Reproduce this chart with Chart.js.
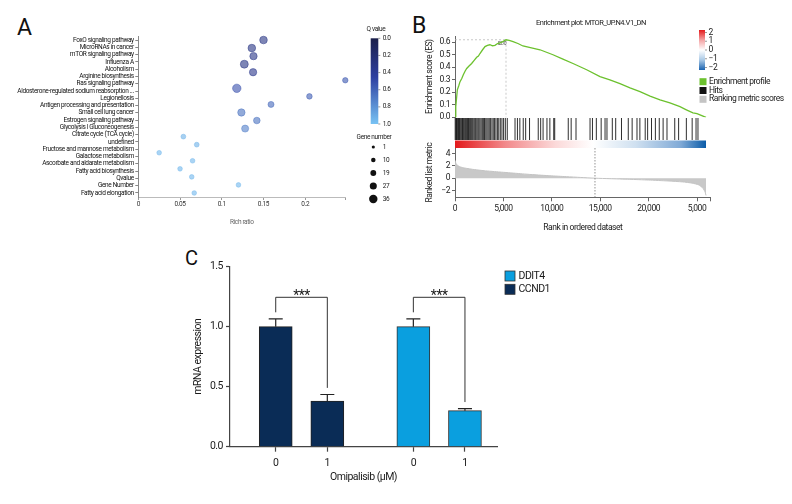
<!DOCTYPE html>
<html>
<head>
<meta charset="utf-8">
<script src="https://cdn.jsdelivr.net/npm/chart.js@4/dist/chart.umd.min.js"></script>
<style>
  body { margin: 0; background: #fff; }
  #page { position: relative; width: 792px; height: 504px; overflow: hidden; font-family: Roboto, "Liberation Sans", sans-serif; }
  canvas { position: absolute; }
  .lbl { position: absolute; line-height: 1; color: #111; }
</style>
</head>
<body>
<div id="page">
  <div class="lbl" style="left:17px;top:16px;font-size:23px">A</div>
  <div class="lbl" style="left:412px;top:14px;font-size:23px">B</div>
  <div class="lbl" style="left:185px;top:248px;font-size:20px">C</div>
  <canvas id="chartA" width="400" height="240" style="left:0;top:0"></canvas>
  <canvas id="chartES" width="392" height="125" style="left:400px;top:0"></canvas>
  <canvas id="chartHits" width="330" height="30" style="left:400px;top:118px"></canvas>
  <canvas id="chartMetric" width="330" height="100" style="left:400px;top:140px"></canvas>
  <canvas id="chartC" width="430" height="264" style="left:150px;top:240px"></canvas>
</div>
<script>
const FONT = 'Roboto, "Liberation Sans", sans-serif';

// ---- panel A: KEGG bubble plot
const pathways = ['FoxO signaling pathway', 'MicroRNAs in cancer', 'mTOR signaling pathway', 'Influenza A',
  'Alcoholism', 'Arginine biosynthesis', 'Ras signaling pathway', 'Aldosterone-regulated sodium reabsorption ...',
  'Legionellosis', 'Antigen processing and presentation', 'Small cell lung cancer', 'Estrogen signaling pathway',
  'Glycolysis l Gluconeogenesis', 'Citrate cycle (TCA cycle)', 'undefined', 'Fructose and mannose metabolism',
  'Galactose metabolism', 'Ascorbate and aldarate metabolism', 'Fatty acid biosynthesis', 'Qvalue',
  'Gene Number', 'Fatty acid elongation'];
const richRatio = [0.150, 0.136, 0.138, 0.127, 0.1375, 0.248, 0.118, 0.205, 0.159, 0.1235,
  0.142, 0.128, 0.054, 0.070, 0.025, 0.065, 0.050, 0.064, 0.120, 0.067];
const qValue = [0.30, 0.30, 0.32, 0.30, 0.34, 0.55, 0.52, 0.58, 0.62, 0.66,
  0.66, 0.72, 0.92, 0.92, 0.95, 0.95, 0.95, 0.95, 0.95, 0.95];
const geneNumber = [31, 31, 29, 33, 29, 16, 36, 17, 20, 29, 24, 27, 12, 12, 11, 11, 11, 11, 11, 11];
const richTicks = [0, 0.05, 0.1, 0.15, 0.2];
const qTicks = [0, 0.2, 0.4, 0.6, 0.8, 1.0];
const geneLegend = [1, 10, 19, 27, 36];

// ---- panel B: GSEA enrichment plot
const esRank = [0, 60, 100, 170, 240, 380, 520, 700, 860, 1050, 1210, 1450, 1720, 1980, 2240, 2420, 2580,
  2850, 3100, 3350, 3610, 3870, 4130, 4400, 4650, 4950, 5270, 5600, 6000, 6500, 7020, 7900, 8780, 9450,
  10120, 11150, 12190, 13600, 14980, 16000, 17040, 18080, 19110, 20150, 21180, 22200, 23240, 23900, 24580,
  25000, 25310, 25930];
const esScore = [0, 0.05, 0.085, 0.16, 0.22, 0.25, 0.285, 0.31, 0.34, 0.37, 0.39, 0.41, 0.43, 0.455, 0.48,
  0.49, 0.51, 0.54, 0.565, 0.575, 0.58, 0.572, 0.575, 0.59, 0.595, 0.605, 0.62, 0.615, 0.605, 0.59, 0.57,
  0.555, 0.54, 0.52, 0.50, 0.465, 0.43, 0.38, 0.325, 0.30, 0.27, 0.235, 0.205, 0.17, 0.14, 0.115, 0.085,
  0.06, 0.035, 0.03, 0.02, 0.0];
const hitRanks = [20, 90, 160, 230, 310, 380, 450, 520, 610, 700, 780, 860, 950, 1040, 1120, 1210, 1300,
  1390, 1480, 1580, 1670, 1760, 1850, 1960, 2060, 2150, 2260, 2370, 2470, 2580, 2700, 2820, 2930, 3050,
  3180, 3300, 3420, 3540, 3680, 3820, 3950, 4090, 4230, 4380, 4520, 4680, 4850, 5020, 5200, 5400,
  6200, 6450, 6700, 7050, 7300, 7700, 8600, 8850, 9100, 9500, 9800, 10200, 10300, 11700, 12000, 12500,
  13950, 14200, 14600, 15100, 15500, 15700, 16250, 16600, 17200, 17900, 18300, 18800, 19100,
  19650, 19900, 20300, 20700, 21100, 21500, 21900, 22700, 23100, 23900, 24500, 24900, 25100];
const metricRank = [0, 100, 250, 500, 1000, 2000, 3000, 4650, 6400, 8000, 9800, 11500, 13000, 14460,
  16000, 18000, 20000, 22000, 23500, 24500, 25200, 25600, 25850, 25930];
const metricValue = [2.9, 2.4, 2.1, 1.85, 1.65, 1.4, 1.22, 1.0, 0.78, 0.58, 0.4, 0.25, 0.12, 0,
  -0.08, -0.18, -0.3, -0.45, -0.6, -0.8, -1.1, -1.6, -2.3, -2.8];
const zeroCross = 14460;
const rankMax = 26415;
const rankTicks = [0, 5000, 10000, 15000, 20000, 25000];
const rankTickLabels = ['0', '5,000', '10,000', '15,000', '20,000', '5,000'];
const esTicks = [0, 0.1, 0.2, 0.3, 0.4, 0.5, 0.6];
const metricTicks = [-2, 0, 2, 4];
const metricLegendTicks = [2, 1, 0, -1, -2];

// ---- panel C: qPCR bars
const doses = ['0', '1'];
const ccnd1Mean = [1.0, 0.38];
const ccnd1Sd = [0.065, 0.055];
const ddit4Mean = [1.0, 0.30];
const ddit4Sd = [0.065, 0.017];
const exprTicks = [0, 0.5, 1.0, 1.5];

const NAVY = '#0a2c56';
const CYAN = '#0a9fdf';
const GREEN = '#6cc12e';

Chart.defaults.font.family = FONT;
Chart.defaults.color = '#1a1a1a';
Chart.defaults.animation = false;
Chart.defaults.layout.autoPadding = false;
Chart.defaults.plugins.legend.display = false;
Chart.defaults.plugins.tooltip.enabled = false;

// tighter letter spacing, the figure uses a condensed face
Chart.register({
  id: 'narrowText',
  defaults: { spacing: 0 },
  beforeUpdate(chart, args, opts) { chart.ctx.letterSpacing = opts.spacing + 'px'; },
  beforeDraw(chart, args, opts) { chart.ctx.letterSpacing = opts.spacing + 'px'; }
});

const qStops = [[0, [27, 31, 74]], [0.45, [45, 62, 160]], [1, [120, 195, 244]]];
function qColor(q, a) {
  for (let i = 1; i < qStops.length; i++) {
    const [t1, c1] = qStops[i], [t0, c0] = qStops[i - 1];
    if (q <= t1) {
      const f = (q - t0) / (t1 - t0);
      const c = c0.map((v, k) => Math.round(v + (c1[k] - v) * f));
      return `rgba(${c[0]},${c[1]},${c[2]},${a})`;
    }
  }
  return `rgba(${qStops[2][1]},${a})`;
}
const geneRadius = g => 1.5 + 0.075 * g;

// colour bar + size legend to the right of the bubble plot
const qLegend = {
  id: 'qLegend',
  afterDraw(chart) {
    const ctx = chart.ctx;
    ctx.save();
    ctx.font = `6.5px ${FONT}`;
    ctx.fillStyle = '#1a1a1a';
    ctx.textAlign = 'center';
    ctx.textBaseline = 'middle';
    ctx.fillText('Q value', 376, 29);
    const top = 38.3, bot = 124, left = 370.7, w = 7.6;
    const grad = ctx.createLinearGradient(0, top, 0, bot);
    qStops.forEach(([t, c]) => grad.addColorStop(t, `rgb(${c})`));
    ctx.fillStyle = grad;
    ctx.fillRect(left, top, w, bot - top);
    ctx.strokeStyle = '#555';
    ctx.lineWidth = 0.6;
    ctx.fillStyle = '#1a1a1a';
    ctx.textAlign = 'left';
    qTicks.forEach(q => {
      const yy = top + q * (bot - top);
      ctx.beginPath();
      ctx.moveTo(left + w, yy);
      ctx.lineTo(left + w + 2, yy);
      ctx.stroke();
      ctx.fillText(q.toFixed(1), 382.7, yy);
    });
    ctx.textAlign = 'center';
    ctx.fillText('Gene number', 374, 137);
    geneLegend.forEach((g, i) => {
      const yy = 147 + i * 13;
      ctx.fillStyle = '#111';
      ctx.beginPath();
      ctx.arc(373.3, yy, geneRadius(g), 0, Math.PI * 2);
      ctx.fill();
      ctx.fillStyle = '#1a1a1a';
      ctx.textAlign = 'left';
      ctx.fillText(String(g), 382.7, yy);
    });
    ctx.restore();
  }
};

new Chart(document.getElementById('chartA'), {
  type: 'bubble',
  data: {
    datasets: [{
      data: richRatio.map((v, i) => ({ x: v, y: i, r: geneRadius(geneNumber[i]) })),
      backgroundColor: qValue.map(q => qColor(q, 0.6)),
      borderColor: qValue.map(q => qColor(q, 0.8)),
      borderWidth: 0.6,
      clip: false
    }]
  },
  options: {
    responsive: false,
    layout: { padding: { left: 0, top: 36, right: 54.7, bottom: 0 } },
    plugins: { narrowText: { spacing: -0.35 } },
    scales: {
      x: {
        type: 'linear', min: 0, max: 0.248,
        afterBuildTicks: s => { s.ticks = richTicks.concat([0.248]).map(v => ({ value: v })); },
        afterFit: s => { s.height = 43; },
        ticks: { font: { size: 6.5 }, color: '#333', padding: 0, autoSkip: false, maxRotation: 0,
          callback: (v, i) => i < richTicks.length ? String(v) : '' },
        grid: { drawOnChartArea: false, tickLength: 3, tickColor: '#999' },
        border: { color: '#bbb' },
        title: { display: true, text: 'Rich ratio', font: { size: 6.5 }, color: '#666', padding: { bottom: 14 } }
      },
      y: {
        type: 'linear', reverse: true, min: -0.5, max: richRatio.length - 0.5,
        afterBuildTicks: s => {
          s.ticks = pathways.map((p, i) => ({ value: i * (richRatio.length - 1) / (pathways.length - 1) }));
        },
        afterFit: s => { s.width = 138.3; },
        ticks: { font: { size: 6.5 }, color: '#111', padding: 1.5, autoSkip: false,
          callback: (v, i) => pathways[i] },
        grid: { drawOnChartArea: false, tickLength: 3, tickColor: '#888' },
        border: { color: '#888' }
      }
    }
  },
  plugins: [qLegend]
});

// ---- panel B top: running enrichment score
const esExtras = {
  id: 'esExtras',
  beforeDatasetsDraw(chart) {
    const { ctx, scales: { x, y }, chartArea } = chart;
    const k = esScore.indexOf(Math.max(...esScore));
    const px = x.getPixelForValue(esRank[k]), py = y.getPixelForValue(esScore[k]);
    ctx.save();
    ctx.setLineDash([2, 2]);
    ctx.strokeStyle = '#bbb';
    ctx.lineWidth = 0.8;
    ctx.beginPath();
    ctx.moveTo(chartArea.left, py);
    ctx.lineTo(px, py);
    ctx.lineTo(px, y.getPixelForValue(0));
    ctx.stroke();
    ctx.setLineDash([]);
    ctx.font = `4.5px ${FONT}`;
    ctx.fillStyle = '#444';
    ctx.textAlign = 'center';
    ctx.textBaseline = 'top';
    ctx.fillText(String(esRank[k]), px - 4, py + 2);
    ctx.restore();
  },
  afterDraw(chart) {
    const ctx = chart.ctx;
    ctx.save();
    ctx.fillStyle = '#1a1a1a';
    ctx.font = `7.5px ${FONT}`;
    ctx.textAlign = 'center';
    ctx.textBaseline = 'middle';
    ctx.fillText('Enrichment plot: MTOR_UP.N4.V1_DN', 191, 23);
    // metric colour key
    const top = 30, bot = 70, left = 299, w = 6;
    const grad = ctx.createLinearGradient(0, top, 0, bot);
    grad.addColorStop(0, '#e41a1c');
    grad.addColorStop(0.25, '#f4a3a4');
    grad.addColorStop(0.5, '#ffffff');
    grad.addColorStop(0.75, '#a9c9e6');
    grad.addColorStop(1, '#1a63b0');
    ctx.fillStyle = grad;
    ctx.fillRect(left, top, w, bot - top);
    ctx.strokeStyle = '#555';
    ctx.lineWidth = 0.6;
    ctx.fillStyle = '#1a1a1a';
    ctx.textAlign = 'left';
    ctx.font = `8.5px ${FONT}`;
    metricLegendTicks.forEach((t, i) => {
      const yy = top + 2.5 + i * (bot - top - 5) / (metricLegendTicks.length - 1);
      ctx.beginPath();
      ctx.moveTo(left + w, yy);
      ctx.lineTo(left + w + 2, yy);
      ctx.stroke();
      ctx.fillText(t < 0 ? '\u2212' + (-t) : String(t), 308.5, yy);
    });
    const items = [['Enrichment profile', GREEN], ['Hits', '#111'], ['Ranking metric scores', '#c4c4c4']];
    items.forEach(([txt, col], i) => {
      const yy = 81.7 + i * 8.8;
      ctx.fillStyle = col;
      ctx.fillRect(299.5, yy - 3.5, 7, 7);
      ctx.fillStyle = '#1a1a1a';
      ctx.fillText(txt, 309, yy);
    });
    ctx.restore();
  }
};

new Chart(document.getElementById('chartES'), {
  type: 'line',
  data: {
    datasets: [{
      data: esRank.map((r, i) => ({ x: r, y: esScore[i] })),
      borderColor: GREEN, borderWidth: 1.3, pointRadius: 0, tension: 0
    }]
  },
  options: {
    responsive: false,
    layout: { padding: { left: 0, top: 36, right: 81.3, bottom: 7.7 } },
    plugins: { narrowText: { spacing: -0.45 } },
    scales: {
      x: { type: 'linear', display: false, min: 0, max: rankMax },
      y: {
        min: 0, max: 0.65,
        afterBuildTicks: s => { s.ticks = esTicks.map(v => ({ value: v })); },
        afterFit: s => { s.width = 55; },
        ticks: { font: { size: 8.5 }, padding: 2, callback: v => v.toFixed(1) },
        grid: { drawOnChartArea: false, tickLength: 3, tickColor: '#666' },
        border: { color: '#666' },
        title: { display: true, text: 'Enrichment score (ES)', font: { size: 8.5 }, padding: { top: 25 } }
      }
    }
  },
  plugins: [esExtras]
});

// ---- panel B middle: hits and rank colour band
const bandPlugin = {
  id: 'band',
  beforeDatasetsDraw(chart) {
    const { ctx, scales: { x, y } } = chart;
    const x0 = x.getPixelForValue(0), x1 = x.getPixelForValue(metricRank[metricRank.length - 1]);
    const y0 = y.getPixelForValue(0.25), y1 = y.getPixelForValue(0);
    const grad = ctx.createLinearGradient(x0, 0, x1, 0);
    grad.addColorStop(0, '#e31a1c');
    grad.addColorStop(0.2, '#f2898b');
    grad.addColorStop(0.4, '#fbd9d9');
    grad.addColorStop(0.55, '#ffffff');
    grad.addColorStop(0.72, '#cfe0f0');
    grad.addColorStop(0.9, '#7fa9d6');
    grad.addColorStop(1, '#0b5ca8');
    ctx.save();
    ctx.fillStyle = grad;
    ctx.fillRect(x0, y0, x1 - x0, y1 - y0);
    ctx.restore();
  }
};

new Chart(document.getElementById('chartHits'), {
  type: 'scatter',
  data: {
    datasets: [{
      data: hitRanks.map(r => ({ x: r, y: 0.633 })),
      pointStyle: 'line', pointRotation: 90, pointRadius: 11,
      pointBorderColor: 'rgba(0,0,0,0.82)', pointBorderWidth: 1, clip: false
    }]
  },
  options: {
    responsive: false,
    layout: { padding: { left: 55, right: 19.3, top: 0, bottom: 0 } },
    scales: {
      x: { type: 'linear', display: false, min: 0, max: rankMax },
      y: { display: false, min: 0, max: 1 }
    }
  },
  plugins: [bandPlugin]
});

// ---- panel B bottom: ranked list metric
const zeroLine = {
  id: 'zeroLine',
  afterDatasetsDraw(chart) {
    const { ctx, scales: { x }, chartArea } = chart;
    const px = x.getPixelForValue(zeroCross);
    ctx.save();
    ctx.setLineDash([1.5, 1.5]);
    ctx.strokeStyle = '#777';
    ctx.lineWidth = 0.8;
    ctx.beginPath();
    ctx.moveTo(px, chartArea.top);
    ctx.lineTo(px, chartArea.bottom);
    ctx.stroke();
    ctx.restore();
  }
};

new Chart(document.getElementById('chartMetric'), {
  type: 'line',
  data: {
    datasets: [{
      data: metricRank.map((r, i) => ({ x: r, y: metricValue[i] })),
      borderColor: '#c4c4c4', backgroundColor: '#c8c8c8', fill: 'origin',
      borderWidth: 1, pointRadius: 0, tension: 0.2
    }]
  },
  options: {
    responsive: false,
    layout: { padding: { left: 0, top: 8, right: 19.3, bottom: 0 } },
    plugins: { narrowText: { spacing: -0.45 } },
    scales: {
      x: {
        type: 'linear', min: 0, max: rankMax,
        afterBuildTicks: s => { s.ticks = rankTicks.concat([rankMax]).map(v => ({ value: v })); },
        afterFit: s => { s.height = 42.7; },
        ticks: { font: { size: 8.5 }, padding: 2, autoSkip: false, maxRotation: 0,
          callback: (v, i) => i < rankTickLabels.length ? rankTickLabels[i] : '' },
        grid: { drawOnChartArea: false, tickLength: 4, tickColor: '#666' },
        border: { color: '#666' },
        title: { display: true, text: 'Rank in ordered dataset', font: { size: 8.5 }, padding: { bottom: 7 } }
      },
      y: {
        min: -3.1, max: 4.9,
        afterBuildTicks: s => { s.ticks = metricTicks.map(v => ({ value: v })); },
        afterFit: s => { s.width = 55; },
        ticks: { font: { size: 8.5 }, padding: 2, callback: v => v < 0 ? '\u2212' + (-v) : String(v) },
        grid: { drawOnChartArea: false, tickLength: 3, tickColor: '#666' },
        border: { color: '#666' },
        title: { display: true, text: 'Ranked list metric', font: { size: 8.5 }, padding: { top: 25 } }
      }
    }
  },
  plugins: [zeroLine]
});

// ---- panel C: grouped bars with error bars and significance brackets
const barPos = (group, dose) => 1 + group * 2.667 + dose;

const cExtras = {
  id: 'cExtras',
  afterDatasetsDraw(chart) {
    const { ctx, scales: { y } } = chart;
    ctx.save();
    const allTops = [];
    chart.data.datasets.forEach(ds => ds.data.forEach((p, i) => allTops.push(p.y + ds.sd[i])));
    const bracketTop = Math.max(...allTops) + 0.18;
    chart.data.datasets.forEach((ds, d) => {
      const bars = chart.getDatasetMeta(d).data;
      ctx.strokeStyle = '#222';
      ctx.lineWidth = 1.2;
      bars.forEach((bar, i) => {
        const yTop = y.getPixelForValue(ds.data[i].y + ds.sd[i]);
        ctx.beginPath();
        ctx.moveTo(bar.x, bar.y);
        ctx.lineTo(bar.x, yTop);
        ctx.moveTo(bar.x - 7, yTop);
        ctx.lineTo(bar.x + 7, yTop);
        ctx.stroke();
      });
      const yb = y.getPixelForValue(bracketTop);
      const l0 = y.getPixelForValue(ds.data[0].y + ds.sd[0] + 0.055);
      const l1 = y.getPixelForValue(ds.data[1].y + ds.sd[1] + 0.055);
      ctx.strokeStyle = '#333';
      ctx.lineWidth = 1;
      ctx.beginPath();
      ctx.moveTo(bars[0].x, l0);
      ctx.lineTo(bars[0].x, yb);
      ctx.lineTo(bars[1].x, yb);
      ctx.lineTo(bars[1].x, l1);
      ctx.stroke();
      ctx.fillStyle = '#1a1a1a';
      ctx.font = `14px ${FONT}`;
      ctx.textAlign = 'center';
      ctx.textBaseline = 'alphabetic';
      ctx.fillText('***', (bars[0].x + bars[1].x) / 2, yb + 2.5);
    });
    // legend
    const order = [1, 0];
    ctx.font = `10.5px ${FONT}`;
    ctx.textAlign = 'left';
    ctx.textBaseline = 'middle';
    order.forEach((d, k) => {
      const ds = chart.data.datasets[d];
      const yy = 36 + k * 13.3;
      ctx.fillStyle = ds.backgroundColor;
      ctx.fillRect(355, yy - 5, 10, 10);
      ctx.strokeStyle = '#333';
      ctx.lineWidth = 0.8;
      ctx.strokeRect(355, yy - 5, 10, 10);
      ctx.fillStyle = '#1a1a1a';
      ctx.fillText(ds.label, 368.5, yy);
    });
    ctx.restore();
  }
};

new Chart(document.getElementById('chartC'), {
  type: 'bar',
  data: {
    datasets: [
      { label: 'CCND1', data: ccnd1Mean.map((m, i) => ({ x: barPos(0, i), y: m })), sd: ccnd1Sd,
        backgroundColor: NAVY, borderColor: '#222', borderWidth: 1 },
      { label: 'DDIT4', data: ddit4Mean.map((m, i) => ({ x: barPos(1, i), y: m })), sd: ddit4Sd,
        backgroundColor: CYAN, borderColor: '#333', borderWidth: 1 }
    ]
  },
  options: {
    responsive: false,
    datasets: { bar: { barThickness: 33, grouped: false } },
    layout: { padding: { left: 0, top: 26.7, right: 83, bottom: 0 } },
    plugins: { narrowText: { spacing: -0.5 } },
    scales: {
      x: {
        type: 'linear', min: 0.114, max: 5.288, offset: false,
        afterBuildTicks: s => {
          s.ticks = [0, 1].flatMap(g => doses.map((d, i) => ({ value: barPos(g, i) })));
        },
        afterFit: s => { s.height = 57.3; },
        ticks: { font: { size: 10.5 }, padding: 5, autoSkip: false, maxRotation: 0,
          callback: (v, i) => doses[i % doses.length] },
        grid: { offset: false, drawOnChartArea: false, tickLength: 5, tickColor: '#444', tickWidth: 1.2 },
        border: { color: '#444', width: 1.2 },
        title: { display: true, text: 'Omipalisib (\u00b5M)', font: { size: 10.5 }, padding: { bottom: 20 } }
      },
      y: {
        min: 0, max: 1.5,
        afterBuildTicks: s => { s.ticks = exprTicks.map(v => ({ value: v })); },
        afterFit: s => { s.width = 80; },
        ticks: { font: { size: 10.5 }, padding: 3, callback: v => v.toFixed(1) },
        grid: { drawOnChartArea: false, tickLength: 4, tickColor: '#444', tickWidth: 1.2 },
        border: { color: '#444', width: 1.2 },
        title: { display: true, text: 'mRNA expression', font: { size: 10.5 }, padding: { top: 42 } }
      }
    }
  },
  plugins: [cExtras]
});
</script>
</body>
</html>
